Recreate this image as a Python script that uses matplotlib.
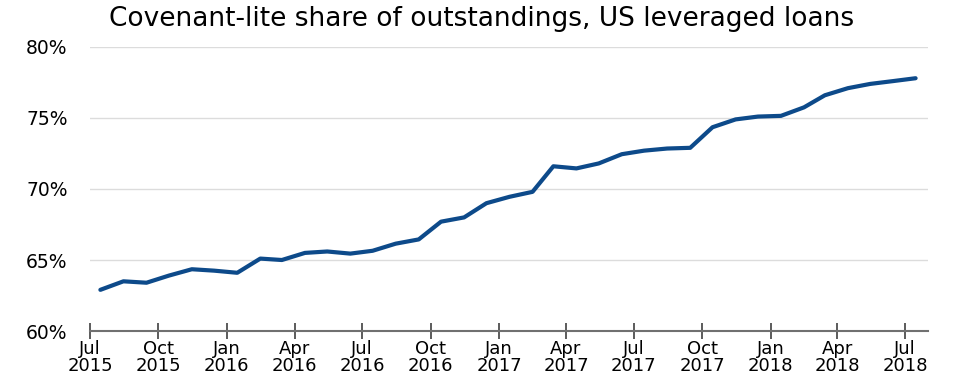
import numpy as np
import pandas as pd
import matplotlib
matplotlib.use('Agg')
import matplotlib.pyplot as plt

plt.rcParams['font.family'] = ['DejaVu Sans']

title = 'Covenant-lite share of outstandings, US leveraged loans'

# monthly values, Jul 2015 .. Jul 2018 (% of outstandings)
months = pd.date_range('2015-07-01', '2018-07-01', freq='MS') + pd.Timedelta(days=14)
cov_lite = [62.9, 63.5, 63.4, 63.9, 64.35, 64.25, 64.1, 65.1, 65.0, 65.5, 65.6, 65.45,
            65.65, 66.15, 66.45, 67.7, 68.0, 69.0, 69.45, 69.8, 71.6, 71.45, 71.8, 72.45,
            72.7, 72.85, 72.9, 74.35, 74.9, 75.1, 75.15, 75.75, 76.6, 77.1, 77.4, 77.6, 77.8]

tick_dates = pd.date_range('2015-07-01', '2018-07-01', freq='QS-JAN')
tick_labels = [d.strftime('%b') + '\n' + d.strftime('%Y') for d in tick_dates]

fig = plt.figure(figsize=(9.54, 3.78), dpi=100)
ax = fig.add_axes([0.0943, 0.1243, 0.8787, 0.7514])

ax.plot(months, cov_lite, color='#0d4a8a', lw=3, solid_joinstyle='round', solid_capstyle='round')

ax.set_ylim(60, 80)
ax.set_yticks([60, 65, 70, 75, 80])
ax.set_yticklabels([str(v) + '%' for v in [60, 65, 70, 75, 80]])
ax.set_xlim(pd.Timestamp('2015-07-01'), pd.Timestamp('2018-08-01'))
ax.set_xticks(tick_dates)
ax.set_xticklabels(tick_labels)

ax.grid(axis='y', color='#dcdcdc', lw=1)
ax.set_axisbelow(True)
for s in ['top', 'right', 'left']:
    ax.spines[s].set_visible(False)
ax.spines['bottom'].set_color('#707070')
ax.spines['bottom'].set_linewidth(1.5)

ax.tick_params(axis='y', length=0, pad=16, labelsize=13.5)
ax.tick_params(axis='x', direction='inout', length=11, width=1.2, color='#404040',
               labelsize=13, pad=1)
for lbl in ax.get_xticklabels():
    lbl.set_linespacing(0.95)

fig.suptitle(title, x=0.505, y=0.985, fontsize=19, va='top')

plt.savefig('out.png', dpi=100)
